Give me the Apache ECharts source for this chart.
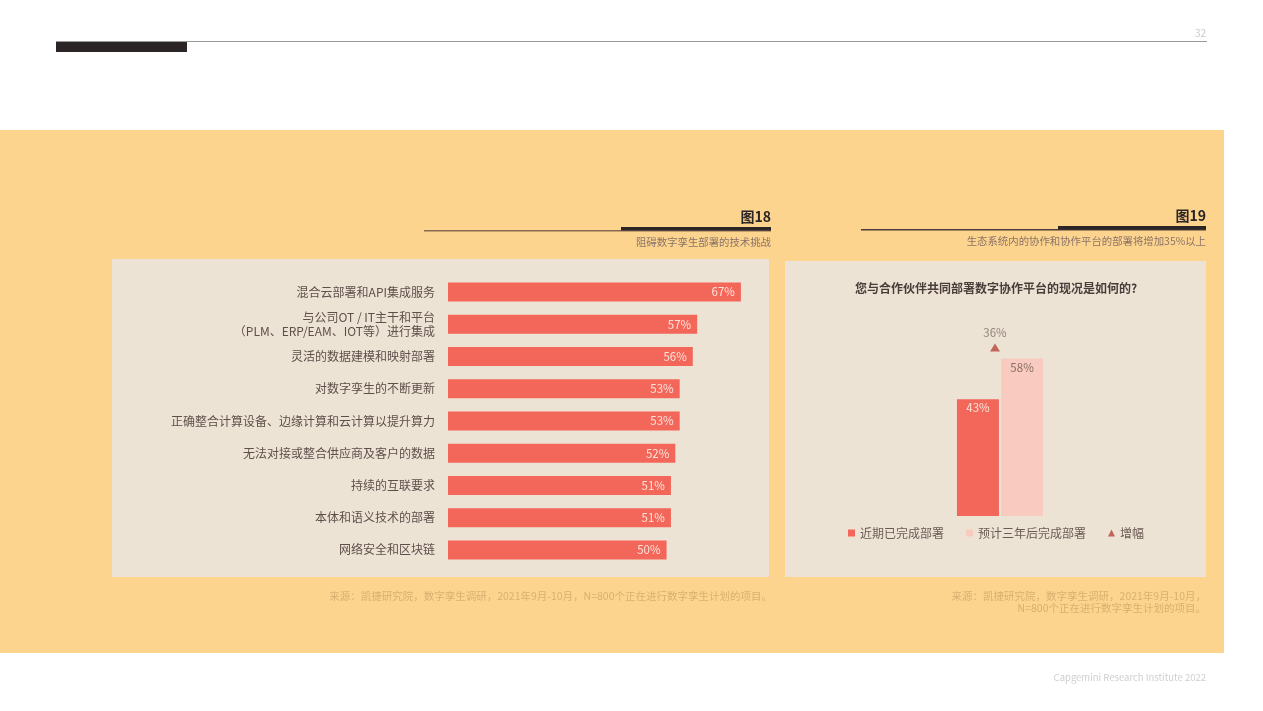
<!DOCTYPE html>
<html>
<head>
<meta charset="utf-8">
<script src="https://cdn.jsdelivr.net/npm/echarts@6/dist/echarts.min.js"></script>
<style>
html,body{margin:0;padding:0;background:#fff;}
#c{width:1263px;height:711px;}
</style>
</head>
<body>
<div id="c"></div>
<script>
// Figure 18 data
const challengeCategories = [
  '混合云部署和API集成服务',
  '与公司OT / IT主干和平台\n（PLM、ERP/EAM、IOT等）进行集成',
  '灵活的数据建模和映射部署',
  '对数字孪生的不断更新',
  '正确整合计算设备、边缘计算和云计算以提升算力',
  '无法对接或整合供应商及客户的数据',
  '持续的互联要求',
  '本体和语义技术的部署',
  '网络安全和区块链'
];
const challengeValues = [67, 57, 56, 53, 53, 52, 51, 51, 50];

// Figure 19 data
const platformCategory = ['现况'];
const seriesNames = ['近期已完成部署', '预计三年后完成部署', '增幅'];
const recentValues = [43];
const futureValues = [58];
const increaseValues = [36];

const FONT = '"Noto Sans CJK SC", "Noto Sans", sans-serif';
const chart = echarts.init(document.getElementById('c'), null, {renderer: 'canvas'});

const triangleData = platformCategory.map((c, i) => ({
  value: [i, Math.max(recentValues[i], futureValues[i])],
  inc: increaseValues[i]
}));

chart.setOption({
  backgroundColor: '#ffffff',
  textStyle: {fontFamily: FONT},
  animation: false,
  graphic: [
    // header
    {type: 'rect', shape: {x: 56, y: 41, width: 1151, height: 1}, style: {fill: '#9a9a9a'}},
    {type: 'rect', shape: {x: 56, y: 42, width: 131, height: 10}, style: {fill: '#2b2526'}},
    {type: 'text', style: {text: '32', x: 1206, y: 33, align: 'right', verticalAlign: 'middle', fill: '#c8c8c8', font: '10px ' + FONT}},
    // orange panel
    {type: 'rect', z: -10, shape: {x: 0, y: 130, width: 1224, height: 523}, style: {fill: '#FDD48D'}},
    {type: 'rect', z: -9, shape: {x: 112, y: 259, width: 657, height: 318}, style: {fill: '#EDE3D5'}},
    {type: 'rect', z: -9, shape: {x: 785, y: 261, width: 421, height: 316}, style: {fill: '#EDE3D5'}},
    // fig 18 header
    {type: 'text', style: {text: '图18', x: 771, y: 217, align: 'right', verticalAlign: 'middle', fill: '#2b2526', font: 'bold 14px ' + FONT}},
    {type: 'rect', shape: {x: 424, y: 230, width: 347, height: 1.5}, style: {fill: '#8a6a55'}},
    {type: 'rect', shape: {x: 621, y: 227, width: 150, height: 3.5}, style: {fill: '#2b2526'}},
    {type: 'text', style: {text: '阻碍数字孪生部署的技术挑战', x: 771, y: 242, align: 'right', verticalAlign: 'middle', fill: '#8a7368', font: '10.4px ' + FONT}},
    // fig 19 header
    {type: 'text', style: {text: '图19', x: 1206, y: 216, align: 'right', verticalAlign: 'middle', fill: '#2b2526', font: 'bold 14px ' + FONT}},
    {type: 'rect', shape: {x: 861, y: 229, width: 345, height: 1.5}, style: {fill: '#4a3c38'}},
    {type: 'rect', shape: {x: 1058, y: 226, width: 148, height: 3.5}, style: {fill: '#2b2526'}},
    {type: 'text', style: {text: '生态系统内的协作和协作平台的部署将增加35%以上', x: 1206, y: 241, align: 'right', verticalAlign: 'middle', fill: '#8a7368', font: '10.4px ' + FONT}},
    // fig 19 question
    {type: 'text', style: {text: '您与合作伙伴共同部署数字协作平台的现况是如何的?', x: 996, y: 288, align: 'center', verticalAlign: 'middle', fill: '#4a3c38', font: 'bold 12px ' + FONT}},
    // footnotes
    {type: 'text', style: {text: '来源：凯捷研究院，数字孪生调研，2021年9月-10月，N=800个正在进行数字孪生计划的项目。', x: 772, y: 596, align: 'right', verticalAlign: 'middle', fill: '#D9AF70', font: '10.5px ' + FONT}},
    {type: 'text', style: {text: '来源：凯捷研究院，数字孪生调研，2021年9月-10月，', x: 1206, y: 596, align: 'right', verticalAlign: 'middle', fill: '#D9AF70', font: '10.5px ' + FONT}},
    {type: 'text', style: {text: 'N=800个正在进行数字孪生计划的项目。', x: 1206, y: 608, align: 'right', verticalAlign: 'middle', fill: '#D9AF70', font: '10.5px ' + FONT}},
    {type: 'text', style: {text: 'Capgemini Research Institute 2022', x: 1206, y: 677, align: 'right', verticalAlign: 'middle', fill: '#cfcfcf', font: '9.5px ' + FONT}}
  ],
  grid: [
    {left: 448, top: 276, width: 306, height: 290},
    {left: 795, top: 326, width: 410, height: 190}
  ],
  xAxis: [
    {gridIndex: 0, type: 'value', min: 0, max: 70, show: false},
    {gridIndex: 1, type: 'category', data: platformCategory, show: false}
  ],
  yAxis: [
    {gridIndex: 0, type: 'category', inverse: true, data: challengeCategories,
     axisLine: {show: false}, axisTick: {show: false},
     axisLabel: {color: '#5e4f4a', fontSize: 12, margin: 13, lineHeight: 14, fontFamily: FONT}},
    {gridIndex: 1, type: 'value', min: 0, max: 70, show: false}
  ],
  legend: {
    left: 843, top: 522,
    itemWidth: 7, itemHeight: 7, itemGap: 22,
    textStyle: {color: '#6b5b55', fontSize: 12, fontFamily: FONT},
    data: [
      {name: seriesNames[0], icon: 'rect'},
      {name: seriesNames[1], icon: 'rect'},
      {name: seriesNames[2], icon: 'triangle'}
    ]
  },
  series: [
    {
      type: 'bar', xAxisIndex: 0, yAxisIndex: 0,
      data: challengeValues, barWidth: 19,
      itemStyle: {color: '#F26759'},
      label: {show: true, position: 'insideRight', distance: 6, formatter: '{c}%', color: '#FDE3DA', fontSize: 11.5, fontFamily: FONT}
    },
    {
      name: seriesNames[0], type: 'bar', xAxisIndex: 1, yAxisIndex: 1,
      data: recentValues, barWidth: 42, barGap: '5%',
      itemStyle: {color: '#F26759'},
      label: {show: true, position: 'insideTop', distance: 3, formatter: '{c}%', color: '#FDE3DA', fontSize: 11.5, fontFamily: FONT}
    },
    {
      name: seriesNames[1], type: 'bar', xAxisIndex: 1, yAxisIndex: 1,
      data: futureValues, barWidth: 42,
      itemStyle: {color: '#F9CBC0'},
      label: {show: true, position: 'insideTop', distance: 3, formatter: '{c}%', color: '#8a6f66', fontSize: 11.5, fontFamily: FONT}
    },
    {
      name: seriesNames[2], type: 'scatter', xAxisIndex: 1, yAxisIndex: 1,
      data: triangleData, symbol: 'triangle', symbolSize: [10, 8], symbolOffset: [-5, -11],
      itemStyle: {color: '#B5453A'},
      label: {show: true, position: 'top', distance: 5, formatter: p => p.data.inc + '%', color: '#7a6a65', fontSize: 11.5, fontFamily: FONT}
    }
  ]
});
</script>
</body>
</html>
